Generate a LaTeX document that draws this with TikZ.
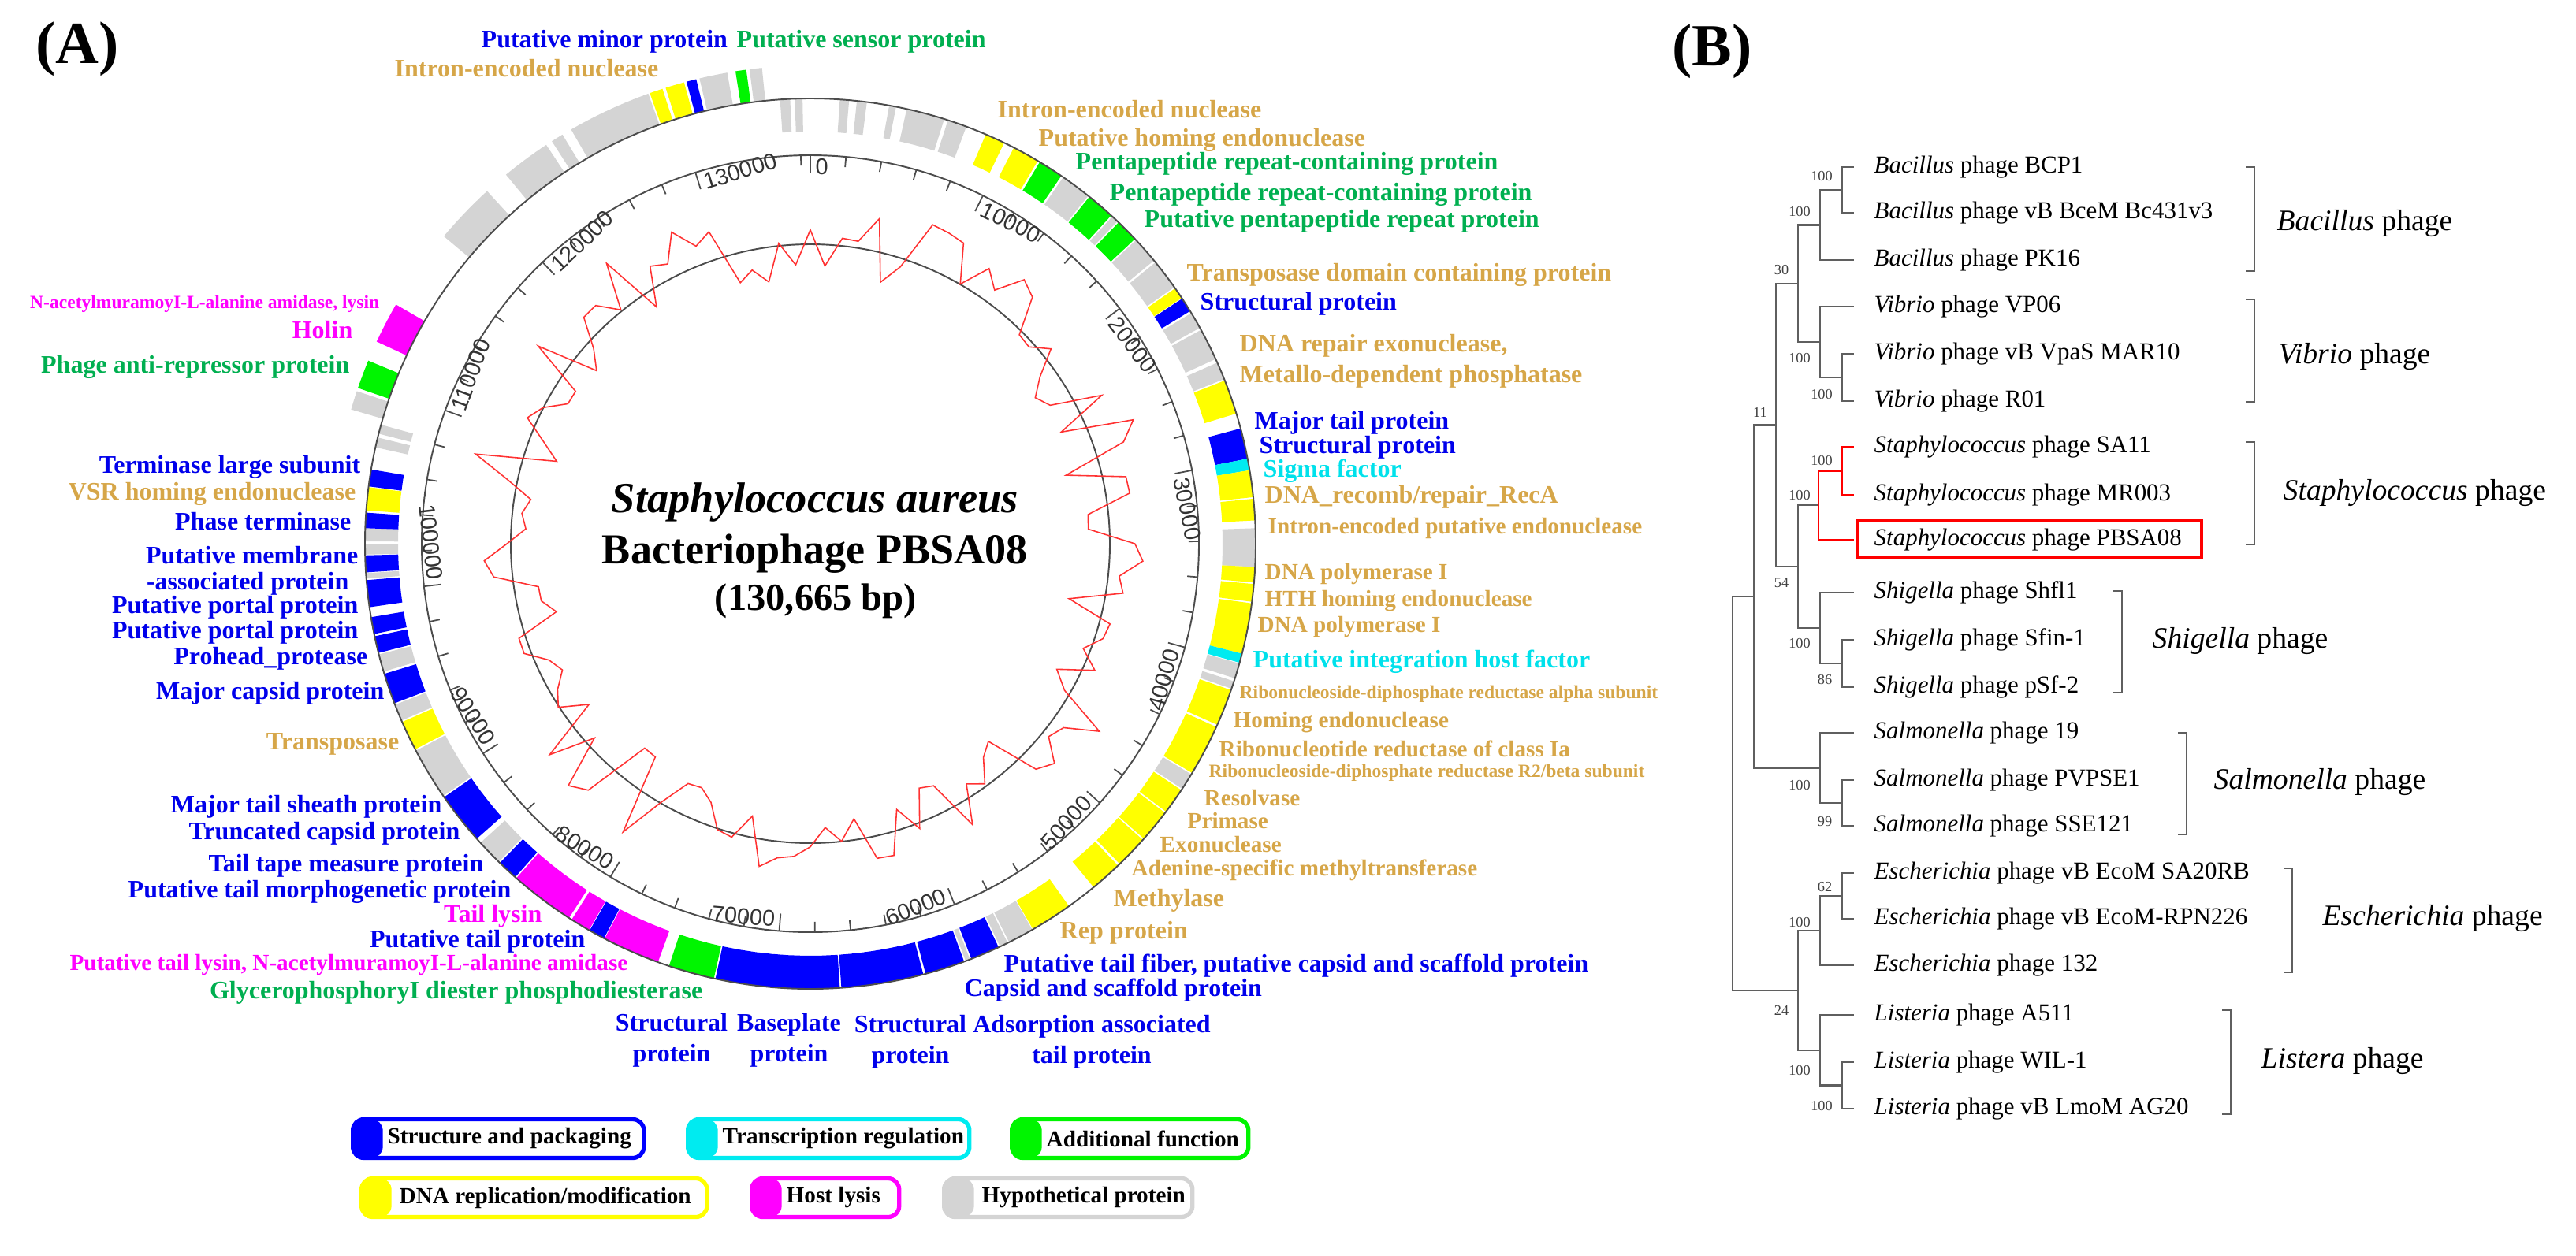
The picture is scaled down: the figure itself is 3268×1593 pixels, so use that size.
\documentclass[tikz,border=0pt]{standalone}
\usepackage[rgb]{xcolor}
\usepackage{fontspec}
\setmainfont{Liberation Serif}
\newfontfamily\tickfont{Liberation Sans}
\usetikzlibrary{positioning}

\definecolor{genBlue}{RGB}{0,0,255}
\definecolor{genYellow}{RGB}{255,255,0}
\definecolor{genGreen}{RGB}{0,245,0}
\definecolor{genMagenta}{RGB}{255,0,255}
\definecolor{genCyan}{RGB}{0,235,240}
\definecolor{genGray}{RGB}{212,212,212}
\definecolor{txtBlue}{RGB}{0,0,235}
\definecolor{txtGold}{RGB}{214,166,72}
\definecolor{txtGreen}{RGB}{0,175,80}
\definecolor{txtMagenta}{RGB}{255,0,255}
\definecolor{txtCyan}{RGB}{0,225,235}
\definecolor{gcRed}{RGB}{255,50,50}
\definecolor{treeGray}{RGB}{95,95,95}

% gene boxes, angles clockwise from the top
\newcommand{\genefwd}[3]{%
  \fill[#3] plot[domain=#1:#2, samples=8] ({90-\x}:565) -- plot[domain=#2:#1, samples=8] ({90-\x}:607) -- cycle;}
\newcommand{\generev}[3]{%
  \fill[#3] plot[domain=#1:#2, samples=8] ({90-\x}:523) -- plot[domain=#2:#1, samples=8] ({90-\x}:565) -- cycle;}

\tikzset{
  ring/.style={draw=black!70, line width=0.55pt},
  tickmark/.style={draw=black!70, line width=0.5pt},
  ticklbl/.style={inner sep=0pt, font=\tickfont\fontsize{8.2}{9}\selectfont, text=black!80},
  gcline/.style={draw=gcRed, line width=0.45pt},
  lbl/.style={inner sep=0pt, font=\bfseries\fontsize{9.1}{11}\selectfont},
  lbls/.style={inner sep=0pt, font=\bfseries\fontsize{8.3}{10}\selectfont},
  lblxs/.style={inner sep=0pt, font=\bfseries\fontsize{6.7}{8}\selectfont},
  legbox/.style={draw=#1, line width=1.5pt, rounded corners=4pt, minimum height=0.49cm, inner sep=0pt, anchor=west,
    path picture={\fill[#1] (path picture bounding box.south west) rectangle ([xshift=0.38cm]path picture bounding box.north west);}},
  legtxt/.style={inner sep=0pt, anchor=west, font=\bfseries\fontsize{8.3}{10}\selectfont},
  branch/.style={draw=treeGray, line width=0.6pt},
  redbranch/.style={draw=red, line width=0.7pt},
  taxon/.style={anchor=west, inner xsep=0.25cm, inner ysep=0pt, font=\fontsize{8.8}{10}\selectfont},
  boot/.style={inner sep=0pt, font=\fontsize{5.2}{6}\selectfont, text=black!75},
  bracket/.style={draw=treeGray, line width=0.6pt},
  grouplbl/.style={anchor=west, inner sep=0pt, font=\fontsize{10.7}{12}\selectfont},
}

\begin{document}
\begin{tikzpicture}[x=0.01cm, y=0.01cm]

\useasboundingbox (0,0) rectangle (3268,-1593);

%
% (A) genome map
%
\node[font=\bfseries\fontsize{21.6}{24}\selectfont] (panelA) at (98,-62) {(A)};

\begin{scope}[shift={(1028,-690)}]

% forward strand genes
\foreach \a/\b/\c in {286.3/288.6/genGray, 289/292.5/genGreen, 295/300/genMagenta,
  310/317.5/genGray, 320.5/326.5/genGray, 327.3/328.8/genGray, 330/340.2/genGray,
  340.4/342/genYellow, 342.4/344.7/genYellow, 345/346.2/genBlue, 346.6/350/genGray,
  351/352.3/genGreen, 352.7/354.2/genGray}
  \genefwd{\a}{\b}{\c};

% reverse strand genes
\foreach \a/\b/\c in {356.1/357.4/genGray, 358/359/genGray, 3.8/5/genGray, 6/7.3/genGray,
  10.2/11.1/genGray, 12.5/17.5/genGray, 18/20.5/genGray,
  23.2/25.8/genYellow, 27.2/30.7/genYellow, 31/34.3/genGreen, 34.6/38.6/genGray,
  38.8/42.5/genGreen, 42.7/43.6/genGray, 43.8/46.8/genGreen, 47/50.5/genGray,
  50.8/54.8/genGray, 55/56.5/genYellow, 56.6/58.5/genBlue, 58.8/61/genGray,
  61.3/65.5/genGray, 66/68.3/genGray, 68.5/73/genYellow,
  75/79/genBlue, 79/80.5/genCyan, 80.5/84/genYellow, 84.2/87/genYellow, 88/93/genGray,
  93/95/genYellow, 95.2/97.5/genYellow, 97.7/104.3/genYellow, 104.3/105.5/genCyan,
  105.6/107.6/genGray, 108/109/genGray, 109.2/114/genYellow, 114.3/121/genYellow,
  121.2/123.4/genGray, 123.6/127/genYellow, 127.2/131.5/genYellow, 131.7/136/genYellow,
  136.3/140.5/genYellow, 144.5/150/genYellow, 150.1/153.5/genGray, 153.7/154.8/genGray,
  155/158.8/genBlue, 159/159.6/genGray, 159.8/165/genBlue, 165.3/176/genBlue,
  176.2/192.3/genBlue, 192.5/198.5/genGreen, 200/207.5/genMagenta, 207.6/209.7/genBlue,
  209.8/212.4/genMagenta, 212.8/221.3/genMagenta, 221.5/224.2/genBlue, 224.4/227.8/genGray,
  228.5/235.3/genBlue, 235.5/242.3/genGray, 242.5/246.4/genYellow, 246.6/248.8/genGray,
  249/253/genBlue, 253.3/255.6/genGray, 255.8/258/genBlue, 258.3/260.5/genBlue,
  261.8/265.3/genBlue, 265.5/266.2/genGray, 266.3/268.5/genBlue, 268.6/270/genGray,
  270.3/272/genGray, 272/274/genBlue, 274.3/277.3/genYellow, 277.4/279.6/genBlue,
  282.5/283.8/genGray, 284.3/285.5/genGray}
  \generev{\a}{\b}{\c};

% backbone, scale and inner circles
\draw[ring] (0,0) circle[radius=565];
\draw[ring] (0,0) circle[radius=493];
\draw[ring] (0,0) circle[radius=380];

% ticks
\foreach \k in {0,...,65}{
  \pgfmathsetmacro\ph{\k*5.274}
  \pgfmathtruncatemacro\mj{mod(\k,5)==0}
  \ifnum\mj=1
    \draw[tickmark] ({90-\ph}:493) -- ({90-\ph}:471);
  \else
    \draw[tickmark] ({90-\ph}:493) -- ({90-\ph}:480);
  \fi
}
\draw[tickmark] ({90-358.6}:493) -- ({90-358.6}:480);

% tick labels
\foreach \k in {0,...,13}{
  \pgfmathsetmacro\ph{\k*26.37}
  \pgfmathtruncatemacro\flip{and(\ph>90,\ph<280)}
  \ifnum\flip=1
    \node[ticklbl, anchor=south east, rotate={180-\ph}] (tk\k) at ({90-\ph-0.7}:489) {\ifnum\k=0 0\else\k0000\fi};
  \else
    \node[ticklbl, anchor=north west, rotate={-\ph}] (tk\k) at ({90-\ph-0.7}:489) {\ifnum\k=0 0\else\k0000\fi};
  \fi
}

% GC curve
\pgfmathsetseed{42}
\gdef\gcpath{}
\foreach \t in {0,3,...,357}{
  \pgfmathsetmacro\rr{385+55*rand}
  \xdef\gcpath{\gcpath ({90-\t}:\rr) --}
}
\draw[gcline] \gcpath cycle;

\end{scope}

% title in the middle
\node[font=\bfseries\itshape\fontsize{15.5}{18}\selectfont] (ttlSpecies) at (1034,-637) {Staphylococcus aureus};
\node[font=\bfseries\fontsize{15.4}{18}\selectfont] (ttlPhage) at (1034,-703) {Bacteriophage PBSA08};
\node[font=\bfseries\fontsize{13.8}{16}\selectfont] (ttlLength) at (1035,-763) {(130,665 bp)};

% top labels
\node[lbl, text=txtBlue, anchor=west] (lMinor) at (610,-53) {Putative minor protein};
\node[lbl, text=txtGreen, anchor=west] (lSensor) at (934,-53) {Putative sensor protein};
\node[lbl, text=txtGold, anchor=west] (lIntron1) at (500,-87) {Intron-encoded nuclease};

% right labels
\node[lbl, text=txtGold, anchor=west] (lIntron2) at (1265,-139) {Intron-encoded nuclease};
\node[lbl, text=txtGold, anchor=west] (lHoming1) at (1317,-178) {Putative homing endonuclease};
\node[lbl, text=txtGreen, anchor=west] (lPenta1) at (1364,-208) {Pentapeptide repeat-containing protein};
\node[lbl, text=txtGreen, anchor=west] (lPenta2) at (1407,-247) {Pentapeptide repeat-containing protein};
\node[lbl, text=txtGreen, anchor=west] (lPenta3) at (1451,-281) {Putative pentapeptide repeat protein};
\node[lbl, text=txtGold, anchor=west] (lTnpDom) at (1505,-349) {Transposase domain containing protein};
\node[lbl, text=txtBlue, anchor=west] (lStructR1) at (1522,-386) {Structural protein};
\node[lbl, text=txtGold, anchor=west] (lRepair) at (1572,-439) {DNA repair exonuclease,};
\node[lbl, text=txtGold, anchor=west] (lMetallo) at (1572,-478) {Metallo-dependent phosphatase};
\node[lbl, text=txtBlue, anchor=west] (lMajTail) at (1591,-537) {Major tail protein};
\node[lbl, text=txtBlue, anchor=west] (lStructR2) at (1597,-568) {Structural protein};
\node[lbl, text=txtCyan, anchor=west] (lSigma) at (1602,-598) {Sigma factor};
\node[lbl, text=txtGold, anchor=west] (lRecA) at (1604,-631) {DNA\_recomb/repair\_RecA};
\node[lbls, text=txtGold, anchor=west] (lIntronPut) at (1608,-670) {Intron-encoded putative endonuclease};
\node[lbls, text=txtGold, anchor=west] (lPol1) at (1604,-729) {DNA polymerase I};
\node[lbls, text=txtGold, anchor=west] (lHTH) at (1604,-763) {HTH homing endonuclease};
\node[lbls, text=txtGold, anchor=west] (lPol2) at (1595,-796) {DNA polymerase I};
\node[lbl, text=txtCyan, anchor=west] (lIHF) at (1589,-840) {Putative integration host factor};
\node[lblxs, text=txtGold, anchor=west] (lRnrAlpha) at (1572,-881) {Ribonucleoside-diphosphate reductase alpha subunit};
\node[lbls, text=txtGold, anchor=west] (lHoming2) at (1564,-917) {Homing endonuclease};
\node[lbls, text=txtGold, anchor=west] (lRnrIa) at (1546,-950) {Ribonucleotide reductase of class Ia};
\node[lblxs, text=txtGold, anchor=west] (lRnrBeta) at (1533,-981) {Ribonucleoside-diphosphate reductase R2/beta subunit};
\node[lbls, text=txtGold, anchor=west] (lResolv) at (1527,-1013) {Resolvase};
\node[lbls, text=txtGold, anchor=west] (lPrimase) at (1506,-1042) {Primase};
\node[lbls, text=txtGold, anchor=west] (lExo) at (1471,-1072) {Exonuclease};
\node[lbls, text=txtGold, anchor=west] (lAdenine) at (1435,-1104) {Adenine-specific methyltransferase};
\node[lbl, text=txtGold, anchor=west] (lMethyl) at (1412,-1143) {Methylase};
\node[lbl, text=txtGold, anchor=west] (lRep) at (1344,-1184) {Rep protein};
\node[lbl, text=txtBlue, anchor=west] (lFiber) at (1273,-1226) {Putative tail fiber, putative capsid and scaffold protein};
\node[lbl, text=txtBlue, anchor=west] (lCapsid) at (1223,-1257) {Capsid and scaffold protein};

% bottom labels
\node[lbl, text=txtBlue, align=center] (lStructB1) at (852,-1320) {Structural\\protein};
\node[lbl, text=txtBlue, align=center] (lBaseplate) at (1001,-1320) {Baseplate\\protein};
\node[lbl, text=txtBlue, align=center] (lStructB2) at (1155,-1322) {Structural\\protein};
\node[lbl, text=txtBlue, align=center] (lAdsorp) at (1385,-1322) {Adsorption associated\\tail protein};

% left labels
\node[lblxs, text=txtMagenta, anchor=east] (lAmidase) at (482,-386) {N-acetylmuramoyI-L-alanine amidase, lysin};
\node[lbl, text=txtMagenta, anchor=east] (lHolin) at (448,-419) {Holin};
\node[lbl, text=txtGreen, anchor=east] (lAntiRep) at (444,-466) {Phage anti-repressor protein};
\node[lbl, text=txtBlue, anchor=east] (lTermL) at (458,-593) {Terminase large subunit};
\node[lbl, text=txtGold, anchor=east] (lVSR) at (452,-627) {VSR homing endonuclease};
\node[lbl, text=txtBlue, anchor=east] (lPhaseTerm) at (446,-662) {Phase terminase};
\node[lbl, text=txtBlue, anchor=east] (lMemb1) at (455,-705) {Putative membrane};
\node[lbl, text=txtBlue, anchor=east] (lMemb2) at (443,-741) {-associated protein};
\node[lbl, text=txtBlue, anchor=east] (lPortal1) at (455,-771) {Putative portal protein};
\node[lbl, text=txtBlue, anchor=east] (lPortal2) at (455,-803) {Putative portal protein};
\node[lbl, text=txtBlue, anchor=east] (lProhead) at (467,-836) {Prohead\_protease};
\node[lbl, text=txtBlue, anchor=east] (lMajCapsid) at (488,-880) {Major capsid protein};
\node[lbl, text=txtGold, anchor=east] (lTnp) at (507,-944) {Transposase};
\node[lbl, text=txtBlue, anchor=east] (lSheath) at (561,-1024) {Major tail sheath protein};
\node[lbl, text=txtBlue, anchor=east] (lTrunc) at (584,-1058) {Truncated capsid protein};
\node[lbl, text=txtBlue, anchor=east] (lTape) at (614,-1099) {Tail tape measure protein};
\node[lbl, text=txtBlue, anchor=east] (lMorpho) at (649,-1132) {Putative tail morphogenetic protein};
\node[lbl, text=txtMagenta, anchor=east] (lTailLys) at (688,-1163) {Tail lysin};
\node[lbl, text=txtBlue, anchor=east] (lTailProt) at (743,-1195) {Putative tail protein};
\node[lbls, text=txtMagenta, anchor=east] (lTailLysAmi) at (797,-1225) {Putative tail lysin, N-acetylmuramoyI-L-alanine amidase};
\node[lbl, text=txtGreen, anchor=east] (lGlycero) at (892,-1260) {GlycerophosphoryI diester phosphodiesterase};

% legend
\node[legbox=genBlue, minimum width=3.69cm] (legStruct) at (445,-1445) {};
\node[legtxt, right=0.46cm of legStruct.west] (legStructTxt) {Structure and packaging};
\node[legbox=genCyan, minimum width=3.57cm] (legTrans) at (870,-1445) {};
\node[legtxt, right=0.46cm of legTrans.west] (legTransTxt) {Transcription regulation};
\node[legbox=genGreen, minimum width=3.00cm] (legAdd) at (1281,-1445) {};
\node[legtxt, right=0.46cm of legAdd.west] (legAddTxt) {Additional function};
\node[legbox=genYellow, minimum width=4.38cm] (legDNA) at (456,-1520) {};
\node[legtxt, right=0.5cm of legDNA.west] (legDNATxt) {DNA replication/modification};
\node[legbox=genMagenta, minimum width=1.87cm] (legLysis) at (951,-1520) {};
\node[legtxt, right=0.46cm of legLysis.west] (legLysisTxt) {Host lysis};
\node[legbox=genGray, minimum width=3.15cm] (legHypo) at (1195,-1520) {};
\node[legtxt, right=0.5cm of legHypo.west] (legHypoTxt) {Hypothetical protein};

%
% (B) tree
%
\node[font=\bfseries\fontsize{21.6}{24}\selectfont] (panelB) at (2172,-65) {(B)};

% leaves
\node[taxon] (t1) at (2352,-212) {\textit{Bacillus} phage BCP1};
\node[taxon] (t2) at (2352,-270) {\textit{Bacillus} phage vB BceM Bc431v3};
\node[taxon] (t3) at (2352,-330) {\textit{Bacillus} phage PK16};
\node[taxon] (t4) at (2352,-389) {\textit{Vibrio} phage VP06};
\node[taxon] (t5) at (2352,-449) {\textit{Vibrio} phage vB VpaS MAR10};
\node[taxon] (t6) at (2352,-509) {\textit{Vibrio} phage R01};
\node[taxon] (t7) at (2352,-567) {\textit{Staphylococcus} phage SA11};
\node[taxon] (t8) at (2352,-628) {\textit{Staphylococcus} phage MR003};
\node[taxon] (t9) at (2352,-685) {\textit{Staphylococcus} phage PBSA08};
\node[taxon] (t10) at (2352,-752) {\textit{Shigella} phage Shfl1};
\node[taxon] (t11) at (2352,-812) {\textit{Shigella} phage Sfin-1};
\node[taxon] (t12) at (2352,-872) {\textit{Shigella} phage pSf-2};
\node[taxon] (t13) at (2352,-930) {\textit{Salmonella} phage 19};
\node[taxon] (t14) at (2352,-990) {\textit{Salmonella} phage PVPSE1};
\node[taxon] (t15) at (2352,-1048) {\textit{Salmonella} phage SSE121};
\node[taxon] (t16) at (2352,-1108) {\textit{Escherichia} phage vB EcoM SA20RB};
\node[taxon] (t17) at (2352,-1166) {\textit{Escherichia} phage vB EcoM-RPN226};
\node[taxon] (t18) at (2352,-1225) {\textit{Escherichia} phage 132};
\node[taxon] (t19) at (2352,-1288) {\textit{Listeria} phage A511};
\node[taxon] (t20) at (2352,-1348) {\textit{Listeria} phage WIL-1};
\node[taxon] (t21) at (2352,-1407) {\textit{Listeria} phage vB LmoM AG20};

% internal nodes
\coordinate (nBac1) at (2337,-241);
\coordinate (nBac2) at (2309,-285.5);
\coordinate (nVib1) at (2337,-479);
\coordinate (nVib2) at (2309,-434);
\coordinate (nC) at (2281,-360);
\coordinate (nSta1) at (2337,-597.5);
\coordinate (nSta2) at (2307,-641);
\coordinate (nShi1) at (2337,-842);
\coordinate (nShi2) at (2309,-797);
\coordinate (nD) at (2281,-719);
\coordinate (nE) at (2253,-539.5);
\coordinate (nSal1) at (2337,-1019);
\coordinate (nSal2) at (2309,-974.5);
\coordinate (nF) at (2225,-757);
\coordinate (nEsc1) at (2337,-1137);
\coordinate (nEsc2) at (2309,-1181);
\coordinate (nLis1) at (2337,-1377.5);
\coordinate (nLis2) at (2309,-1333);
\coordinate (nG) at (2281,-1257);
\coordinate (nRoot) at (2198,-1007);

% branches
\draw[branch] (nBac1) |- (t1.west);
\draw[branch] (nBac1) |- (t2.west);
\draw[branch] (nBac2) |- (nBac1);
\draw[branch] (nBac2) |- (t3.west);
\draw[branch] (nVib1) |- (t5.west);
\draw[branch] (nVib1) |- (t6.west);
\draw[branch] (nVib2) |- (t4.west);
\draw[branch] (nVib2) |- (nVib1);
\draw[branch] (nC) |- (nBac2);
\draw[branch] (nC) |- (nVib2);
\draw[redbranch] (nSta1) |- (t7.west);
\draw[redbranch] (nSta1) |- (t8.west);
\draw[redbranch] (nSta2) |- (nSta1);
\draw[redbranch] (nSta2) |- (t9.west);
\draw[branch] (nShi1) |- (t11.west);
\draw[branch] (nShi1) |- (t12.west);
\draw[branch] (nShi2) |- (t10.west);
\draw[branch] (nShi2) |- (nShi1);
\draw[branch] (nD) |- (nSta2);
\draw[branch] (nD) |- (nShi2);
\draw[branch] (nE) |- (nC);
\draw[branch] (nE) |- (nD);
\draw[branch] (nSal1) |- (t14.west);
\draw[branch] (nSal1) |- (t15.west);
\draw[branch] (nSal2) |- (t13.west);
\draw[branch] (nSal2) |- (nSal1);
\draw[branch] (nF) |- (nE);
\draw[branch] (nF) |- (nSal2);
\draw[branch] (nEsc1) |- (t16.west);
\draw[branch] (nEsc1) |- (t17.west);
\draw[branch] (nEsc2) |- (nEsc1);
\draw[branch] (nEsc2) |- (t18.west);
\draw[branch] (nLis1) |- (t20.west);
\draw[branch] (nLis1) |- (t21.west);
\draw[branch] (nLis2) |- (t19.west);
\draw[branch] (nLis2) |- (nLis1);
\draw[branch] (nG) |- (nEsc2);
\draw[branch] (nG) |- (nLis2);
\draw[branch] (nRoot) |- (nF);
\draw[branch] (nRoot) |- (nG);

% highlight of the new phage
\draw[red, line width=1pt] (2356,-661) rectangle (2793,-708);

% bootstrap values
\node[boot] (bBac1) at (2311,-224) {100};
\node[boot] (bBac2) at (2283,-268) {100};
\node[boot] (bC) at (2260,-342) {30};
\node[boot] (bVib2) at (2283,-454) {100};
\node[boot] (bVib1) at (2311,-500) {100};
\node[boot] (bE) at (2233,-523) {11};
\node[boot] (bSta1) at (2311,-584) {100};
\node[boot] (bSta2) at (2283,-628) {100};
\node[boot] (bD) at (2260,-740) {54};
\node[boot] (bShi2) at (2283,-816) {100};
\node[boot] (bShi1) at (2315,-862) {86};
\node[boot] (bSal2) at (2283,-996) {100};
\node[boot] (bSal1) at (2315,-1043) {99};
\node[boot] (bEsc1) at (2315,-1126) {62};
\node[boot] (bEsc2) at (2283,-1170) {100};
\node[boot] (bG) at (2260,-1282) {24};
\node[boot] (bLis2) at (2283,-1358) {100};
\node[boot] (bLis1) at (2311,-1403) {100};

% group brackets
\draw[bracket] (2849,-212) -- (2860,-212) -- (2860,-344) -- (2849,-344);
\draw[bracket] (2849,-380) -- (2860,-380) -- (2860,-510) -- (2849,-510);
\draw[bracket] (2849,-561) -- (2860,-561) -- (2860,-691) -- (2849,-691);
\draw[bracket] (2681,-750) -- (2692,-750) -- (2692,-879) -- (2681,-879);
\draw[bracket] (2763,-930) -- (2774,-930) -- (2774,-1059) -- (2763,-1059);
\draw[bracket] (2897,-1102) -- (2908,-1102) -- (2908,-1234) -- (2897,-1234);
\draw[bracket] (2819,-1282) -- (2830,-1282) -- (2830,-1414) -- (2819,-1414);

\node[grouplbl] (gBac) at (2888,-283) {\textit{Bacillus} phage};
\node[grouplbl] (gVib) at (2890,-452) {\textit{Vibrio} phage};
\node[grouplbl] (gSta) at (2896,-625) {\textit{Staphylococcus} phage};
\node[grouplbl] (gShi) at (2730,-813) {\textit{Shigella} phage};
\node[grouplbl] (gSal) at (2808,-992) {\textit{Salmonella} phage};
\node[grouplbl] (gEsc) at (2946,-1165) {\textit{Escherichia} phage};
\node[grouplbl] (gLis) at (2868,-1346) {\textit{Listera} phage};

\end{tikzpicture}
\end{document}
